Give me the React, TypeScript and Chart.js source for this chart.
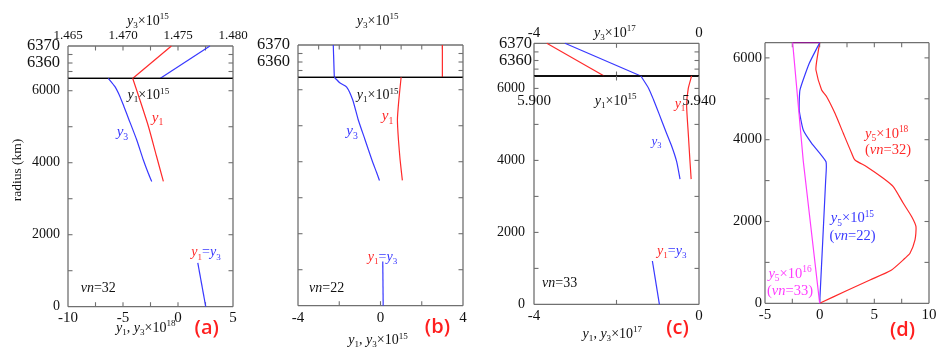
import React, { useEffect, useRef } from 'react';
import { Chart, registerables } from 'chart.js';

Chart.register(...registerables);

const W = 944;
const H = 355;
const SERIF = '"Liberation Serif", "DejaVu Serif", serif';
const SANS = '"Open Sans", "Noto Sans", sans-serif';
const INK = '#111111';
const FRAME = '#707070';
const RED = '#ff2a2a';
const BLUE = '#3838ff';
const MAGENTA = '#ff3cff';
const PURPLE = '#8a1a8a';
const TAG = '#ff1f1f';

// ---------------- data (radius in km, amplitudes in the plotted units) ----------------
// Panel (a), vn = 32 : crust inset (top axis y3 x 1e15)
const aInsetR = [6351, 6370];
const aInsetY1 = [1.4709, 1.4744];
const aInsetY3 = [1.4734, 1.4779];
// Panel (a) mantle / core (y1, y3 x 1e18)
const aY3R = [6345, 6112, 5835, 5557, 5230, 4631, 4075, 3706, 3480];
const aY3 = [-6.34, -5.73, -5.27, -4.91, -4.5, -3.75, -3.15, -2.7, -2.39];
const aY1R = [6345, 5750, 5000, 4200, 3480];
const aY1 = [-4.12, -3.47, -2.68, -1.97, -1.33];
const aCoreR = [1220, 0];
const aCoreY = [1.8, 2.52];

// Panel (b), vn = 22 (x 1e15)
const bInsetR = [6351, 6370];
const bInsetY3 = [-2.24, -2.29];
const bInsetY1 = [3.0, 3.0];
const bY3R = [6345, 6186, 6075, 5722, 5167, 4611, 4056, 3685, 3480];
const bY3 = [-2.24, -1.96, -1.64, -1.35, -1.08, -0.75, -0.42, -0.18, -0.05];
const bY1R = [6345, 5722, 5167, 4611, 4056, 3480];
const bY1 = [1.0, 0.89, 0.82, 0.87, 0.95, 1.06];
const bCoreR = [1230, 0];
const bCoreY = [0.11, 0.13];

// Panel (c), vn = 33 (y3 x 1e17, y1 x 1e15)
const cInsetR = [6351, 6370];
const cInsetY1 = [-2.3, -3.69];
const cInsetY3 = [-1.41, -3.25];
const cY3R = [6345, 6000, 5680, 5300, 4850, 4420, 3960, 3480];
const cY3 = [-1.41, -1.22, -1.1, -0.97, -0.82, -0.67, -0.54, -0.46];
const cY1R = [6345, 6000, 5530, 4750, 4000, 3480];
const cY1 = [5.9382, 5.9374, 5.937, 5.9374, 5.9378, 5.9381];
const cCoreR = [1206, 0];
const cCoreY = [-1.13, -0.96];

// Panel (d): y5 profiles
const dR32 = [6371, 5908, 5704, 5215, 5051, 4645, 4156, 3667, 3504, 3340, 3056, 2851, 2445, 2117, 1873, 1548, 1222, 1100, 800, 570, 300, 0];
const dY32 = [0, -0.28, -0.34, 0.18, 0.64, 1.4, 2.16, 2.93, 3.23, 4.3, 5.82, 6.73, 7.65, 8.42, 8.81, 8.72, 8.26, 7.8, 6.5, 4.6, 2.4, 0];
const dR22 = [6371, 5868, 5216, 4726, 4237, 3912, 3462, 3015, 0];
const dY22 = [0, -0.95, -1.8, -1.87, -1.5, -0.73, 0.58, 0.55, 0];
const dR33 = [6371, 3480, 0];
const dY33 = [-2.47, -1.5, 0];
const dSurfR = [6371, 6371];
const dSurfY = [-2.47, 0];

// ---------------- helpers ----------------
type Part = [string, string?];
interface Note { x: number; y: number; parts: Part[]; size?: number; axis?: string; rot?: number; sans?: boolean; bold?: boolean }
interface Spec {
  area: { l: number; t: number; r: number; b: number };
  x: { min: number; max: number; pos?: 'top' | 'bottom'; step?: number; dec?: number; size?: number; pad?: number };
  x2?: { min: number; max: number };
  y: { min: number; max: number; show: boolean; step?: number; size?: number; pad?: number };
  ticks: { top?: number; bottom?: number; left?: number; right?: number };
  edge: { top?: string; bottom?: string };
  sets: any[];
  notes: Note[];
}

const line = (xs: number[], rs: number[], color: string, extra: any = {}) => ({
  data: xs.map((x, i) => ({ x, y: rs[i] })),
  showLine: true,
  borderColor: color,
  backgroundColor: color,
  borderWidth: 1.2,
  pointRadius: 0,
  tension: 0.2,
  clip: 3,
  ...extra,
});

function stepValues(min: number, max: number, step: number): number[] {
  const start = Math.ceil((min - 1e-9) / step) * step;
  const n = Math.floor((max - start) / step + 1e-9);
  const out: number[] = [];
  for (let i = 0; i <= n; i++) out.push(Number((start + i * step).toFixed(6)));
  return out;
}

function parseMarkup(m: string) {
  const out: { t: string; it: boolean; mode: number }[] = [];
  let it = false;
  let i = 0;
  while (i < m.length) {
    const ch = m[i];
    if (ch === '*') { it = !it; i++; continue; }
    if ((ch === '_' || ch === '^') && m[i + 1] === '{') {
      const end = m.indexOf('}', i + 2);
      out.push({ t: m.slice(i + 2, end), it: false, mode: ch === '_' ? 1 : 2 });
      i = end + 1;
      continue;
    }
    let j = i;
    while (j < m.length && m[j] !== '*' && !((m[j] === '_' || m[j] === '^') && m[j + 1] === '{')) j++;
    out.push({ t: m.slice(i, j), it, mode: 0 });
    i = j;
  }
  return out;
}

function drawRich(ctx: CanvasRenderingContext2D, note: Note, cx: number, cy: number) {
  const size = note.size ?? 14;
  const fam = note.sans ? SANS : SERIF;
  const weight = note.bold ? '600 ' : '';
  const runs = note.parts.flatMap(([m, c]) => parseMarkup(m).map((r) => ({ ...r, c: c ?? INK, w: 0 })));
  const fontOf = (r: any) => `${r.it ? 'italic ' : ''}${weight}${r.mode ? size * 0.65 : size}px ${fam}`;
  let total = 0;
  for (const r of runs) { ctx.font = fontOf(r); r.w = ctx.measureText(r.t).width; total += r.w; }
  ctx.save();
  ctx.translate(cx, cy);
  if (note.rot) ctx.rotate(note.rot);
  ctx.textAlign = 'left';
  ctx.textBaseline = 'alphabetic';
  let x = -total / 2;
  const base = size * 0.34;
  for (const r of runs) {
    ctx.font = fontOf(r);
    ctx.fillStyle = r.c;
    const dy = r.mode === 1 ? size * 0.24 : r.mode === 2 ? -size * 0.38 : 0;
    ctx.fillText(r.t, x, base + dy);
    x += r.w;
  }
  ctx.restore();
}

function makeDecor(spec: Spec) {
  return {
    id: 'figureDecor',
    beforeDatasetsDraw(chart: any) {
      const ctx: CanvasRenderingContext2D = chart.ctx;
      const a = chart.chartArea;
      const xs = chart.scales.x;
      const ys = chart.scales.y;
      ctx.save();
      ctx.lineWidth = 1.3;
      const seg = (x1: number, y1: number, x2: number, y2: number, c: string) => {
        ctx.strokeStyle = c; ctx.beginPath(); ctx.moveTo(x1, y1); ctx.lineTo(x2, y2); ctx.stroke();
      };
      seg(a.left, a.top, a.right, a.top, spec.edge.top ?? FRAME);
      seg(a.left, a.bottom, a.right, a.bottom, spec.edge.bottom ?? FRAME);
      seg(a.left, a.top, a.left, a.bottom, FRAME);
      seg(a.right, a.top, a.right, a.bottom, FRAME);
      ctx.lineWidth = 1.1;
      const L = 4.5;
      const each = (scale: any, step: number, fn: (p: number) => void) => {
        for (const v of stepValues(scale.min, scale.max, step)) fn(scale.getPixelForValue(v));
      };
      const t = spec.ticks;
      if (t.left) each(ys, t.left, (p) => { if (p > a.top + 1 && p < a.bottom - 1) seg(a.left, p, a.left + L, p, FRAME); });
      if (t.right) each(ys, t.right, (p) => { if (p > a.top + 1 && p < a.bottom - 1) seg(a.right, p, a.right - L, p, FRAME); });
      if (t.top) each(xs, t.top, (p) => { if (p > a.left + 1 && p < a.right - 1) seg(p, a.top, p, a.top + L, FRAME); });
      if (t.bottom) each(xs, t.bottom, (p) => { if (p > a.left + 1 && p < a.right - 1) seg(p, a.bottom, p, a.bottom - L, FRAME); });
      ctx.restore();
    },
    afterDatasetsDraw(chart: any) {
      const ctx: CanvasRenderingContext2D = chart.ctx;
      for (const n of spec.notes) {
        const xs = chart.scales[n.axis ?? 'x'];
        const ys = chart.scales.y;
        drawRich(ctx, n, xs.getPixelForValue(n.x), ys.getPixelForValue(n.y));
      }
    },
  };
}

function buildConfig(spec: Spec): any {
  const YW = 60;
  const XH = 26;
  const xPos = spec.x.pos;
  const padding = {
    left: spec.area.l - (spec.y.show ? YW : 0),
    right: W - spec.area.r,
    top: spec.area.t - (xPos === 'top' ? XH : 0),
    bottom: H - spec.area.b - (xPos === 'bottom' ? XH : 0),
  };
  const scales: any = {
    x: {
      type: 'linear',
      display: !!xPos,
      position: xPos || 'bottom',
      min: spec.x.min,
      max: spec.x.max,
      grid: { display: false, drawTicks: false },
      border: { display: false },
      ticks: {
        autoSkip: false,
        maxRotation: 0,
        minRotation: 0,
        padding: spec.x.pad ?? 2,
        color: INK,
        font: { family: SERIF, size: spec.x.size ?? 14, lineHeight: 1.2 },
        callback: (v: any) => Number(v).toFixed(spec.x.dec ?? 0),
      },
      afterBuildTicks: (s: any) => {
        if (spec.x.step) s.ticks = stepValues(spec.x.min, spec.x.max, spec.x.step).map((value) => ({ value }));
      },
      afterFit: xPos ? (s: any) => { s.height = XH; } : undefined,
    },
    y: {
      type: 'linear',
      display: spec.y.show,
      position: 'left',
      min: spec.y.min,
      max: spec.y.max,
      grid: { display: false, drawTicks: false },
      border: { display: false },
      ticks: {
        autoSkip: false,
        padding: spec.y.pad ?? 8,
        color: INK,
        font: { family: SERIF, size: spec.y.size ?? 14, lineHeight: 1.2 },
        callback: (v: any) => String(Math.round(Number(v))),
      },
      afterBuildTicks: (s: any) => {
        if (spec.y.step) s.ticks = stepValues(spec.y.min, spec.y.max, spec.y.step).map((value) => ({ value }));
      },
      afterFit: spec.y.show ? (s: any) => { s.width = YW; } : undefined,
    },
  };
  if (spec.x2) {
    scales.x2 = { type: 'linear', display: false, position: 'top', min: spec.x2.min, max: spec.x2.max };
  }
  return {
    type: 'scatter',
    data: { datasets: spec.sets },
    options: {
      responsive: false,
      animation: false,
      devicePixelRatio: 1,
      events: [],
      layout: { padding },
      plugins: { legend: { display: false }, tooltip: { enabled: false } },
      scales,
    },
    plugins: [makeDecor(spec)],
  };
}

const y1 = (c?: string): Part => ['*y*_{1}', c];

const SPECS: Spec[] = [
  // (a) crust inset
  {
    area: { l: 68, t: 46, r: 233, b: 78.3 },
    x: { min: 1.465, max: 1.48, pos: 'top', step: 0.005, dec: 3, size: 13, pad: 3 },
    y: { min: 6351, max: 6370, show: true, step: 10, size: 16.5, pad: 8 },
    ticks: { top: 0.0025, left: 5, right: 5 },
    edge: { bottom: '#000' },
    sets: [line(aInsetY1, aInsetR, RED, { tension: 0 }), line(aInsetY3, aInsetR, BLUE, { tension: 0 })],
    notes: [{ x: 1.47227, y: 6385.3, parts: [['*y*_{3}×10^{15}']], size: 14 }],
  },
  // (a) main
  {
    area: { l: 68, t: 78.3, r: 233, b: 306.7 },
    x: { min: -10, max: 5, pos: 'bottom', step: 5, dec: 0, size: 15, pad: 2 },
    y: { min: 0, max: 6345, show: true, step: 2000, size: 14, pad: 8 },
    ticks: { bottom: 2.5, left: 1000, right: 1000 },
    edge: { top: '#000' },
    sets: [
      line(aY1, aY1R, RED),
      line(aY3, aY3R, BLUE),
      line(aCoreY, aCoreR, BLUE, { tension: 0 }),
    ],
    notes: [
      { x: -2.7, y: 5903, parts: [['*y*_{1}×10^{15}']], size: 14 },
      { x: -5.05, y: 4881, parts: [['*y*_{3}', BLUE]], size: 15 },
      { x: -1.86, y: 5278, parts: [y1(RED)], size: 15 },
      { x: 2.55, y: 1528, parts: [y1(RED), ['=*y*_{3}', BLUE]], size: 14 },
      { x: -7.25, y: 539, parts: [['*vn*=32']], size: 14 },
      { x: -2.93, y: -564, parts: [['*y*_{1}, *y*_{3}×10^{18}']], size: 14 },
      { x: 2.61, y: -578, parts: [['(a)', TAG]], size: 20, sans: true, bold: true },
      { x: -14.73, y: 3798, parts: [['radius (km)']], size: 13.5, rot: -Math.PI / 2 },
    ],
  },
  // (b) crust inset
  {
    area: { l: 298, t: 45, r: 463, b: 77.3 },
    x: { min: -4, max: 4 },
    y: { min: 6351, max: 6370, show: true, step: 10, size: 16.5, pad: 8 },
    ticks: { top: 1, left: 5, right: 5 },
    edge: { bottom: '#000' },
    sets: [line(bInsetY3, bInsetR, BLUE, { tension: 0 }), line(bInsetY1, bInsetR, RED, { tension: 0 })],
    notes: [{ x: -0.14, y: 6384.7, parts: [['*y*_{3}×10^{15}']], size: 14 }],
  },
  // (b) main
  {
    area: { l: 298, t: 77.3, r: 463, b: 305.7 },
    x: { min: -4, max: 4, pos: 'bottom', step: 4, dec: 0, size: 15, pad: 3 },
    y: { min: 0, max: 6345, show: false },
    ticks: { bottom: 2, left: 1000, right: 1000 },
    edge: { top: '#000' },
    sets: [
      line(bY1, bY1R, RED),
      line(bY3, bY3R, BLUE),
      line(bCoreY, bCoreR, BLUE, { tension: 0 }),
    ],
    notes: [
      { x: -0.14, y: 5875, parts: [['*y*_{1}×10^{15}']], size: 14 },
      { x: -1.38, y: 4881, parts: [['*y*_{3}', BLUE]], size: 15 },
      { x: 0.34, y: 5298, parts: [y1(RED)], size: 15 },
      { x: 0.1, y: 1381, parts: [y1(RED), ['=*y*_{3}', BLUE]], size: 14 },
      { x: -2.61, y: 506, parts: [['*vn*=22']], size: 14 },
      { x: -0.12, y: -930, parts: [['*y*_{1}, *y*_{3}×10^{15}']], size: 14 },
      { x: 2.76, y: -583, parts: [['(b)', TAG]], size: 20, sans: true, bold: true },
    ],
  },
  // (c) crust inset
  {
    area: { l: 534, t: 43.3, r: 699, b: 76 },
    x: { min: -4, max: 0, pos: 'top', step: 4, dec: 0, size: 15, pad: 1 },
    y: { min: 6351, max: 6370, show: true, step: 10, size: 16.5, pad: 2 },
    ticks: { top: 2, bottom: 2, left: 5, right: 5 },
    edge: { bottom: '#000' },
    sets: [line(cInsetY1, cInsetR, RED, { tension: 0 }), line(cInsetY3, cInsetR, BLUE, { tension: 0 })],
    notes: [{ x: -2.04, y: 6376.7, parts: [['*y*_{3}×10^{17}']], size: 14 }],
  },
  // (c) main
  {
    area: { l: 534, t: 76, r: 699, b: 304.4 },
    x: { min: -4, max: 0, pos: 'bottom', step: 4, dec: 0, size: 15, pad: 2.5 },
    x2: { min: 5.9, max: 5.94 },
    y: { min: 0, max: 6345, show: true, step: 2000, size: 14, pad: 9 },
    ticks: { top: 2, bottom: 2, left: 1000, right: 1000 },
    edge: { top: '#000' },
    sets: [
      line(cY1, cY1R, RED, { xAxisID: 'x2' }),
      line(cY3, cY3R, BLUE),
      line(cCoreY, cCoreR, BLUE, { tension: 0 }),
    ],
    notes: [
      { x: 5.9, y: 5678, axis: 'x2', parts: [['5.900']], size: 15 },
      { x: 5.94, y: 5678, axis: 'x2', parts: [['5.940']], size: 15 },
      { x: 5.9198, y: 5678, axis: 'x2', parts: [['*y*_{1}×10^{15}']], size: 14 },
      { x: -0.46, y: 5595, parts: [y1(RED)], size: 14 },
      { x: -1.03, y: 4556, parts: [['*y*_{3}', BLUE]], size: 13 },
      { x: -0.66, y: 1511, parts: [y1(RED), ['=*y*_{3}', BLUE]], size: 14 },
      { x: -3.38, y: 608, parts: [['*vn*=33']], size: 14 },
      { x: -2.1, y: -795, parts: [['*y*_{1}, *y*_{3}×10^{17}']], size: 14 },
      { x: -0.52, y: -642, parts: [['(c)', TAG]], size: 20, sans: true, bold: true },
    ],
  },
  // (d)
  {
    area: { l: 765, t: 42.7, r: 929, b: 303.3 },
    x: { min: -5, max: 10, pos: 'bottom', step: 5, dec: 0, size: 15, pad: 2.5 },
    y: { min: 0, max: 6371, show: true, step: 2000, size: 14.5, pad: 3 },
    ticks: { top: 2.5, bottom: 2.5, left: 1000, right: 1000 },
    edge: {},
    sets: [
      line(dY33, dR33, MAGENTA, { tension: 0 }),
      line(dY22, dR22, BLUE, { tension: 0.15 }),
      line(dY32, dR32, RED, { tension: 0.2 }),
      line(dSurfY, dSurfR, PURPLE, { tension: 0 }),
    ],
    notes: [
      { x: 6.13, y: 4164, parts: [['*y*_{5}×10^{18}', RED]], size: 14.5 },
      { x: 6.25, y: 3773, parts: [['(*vn*=32)', RED]], size: 14.5 },
      { x: 3.0, y: 2098, parts: [['*y*_{5}×10^{15}', BLUE]], size: 14.5 },
      { x: 3.0, y: 1670, parts: [['(*vn*=22)', BLUE]], size: 14.5 },
      { x: -2.71, y: 741, parts: [['*y*_{5}×10^{16}', MAGENTA]], size: 14.5 },
      { x: -2.71, y: 325, parts: [['(*vn*=33)', MAGENTA]], size: 14.5 },
      { x: 7.58, y: -633, parts: [['(d)', TAG]], size: 20, sans: true, bold: true },
    ],
  },
];

function Panel({ spec }: { spec: Spec }) {
  const ref = useRef<HTMLCanvasElement>(null);
  useEffect(() => {
    if (!ref.current) return;
    const chart = new Chart(ref.current, buildConfig(spec));
    return () => chart.destroy();
  }, [spec]);
  return (
    <canvas
      ref={ref}
      width={W}
      height={H}
      style={{ position: 'absolute', left: 0, top: 0, width: W, height: H }}
    />
  );
}

export default function App() {
  return (
    <div style={{ position: 'fixed', left: 0, top: 0, width: W, height: H, background: '#ffffff', overflow: 'hidden' }}>
      {SPECS.map((s, i) => (
        <Panel key={i} spec={s} />
      ))}
    </div>
  );
}
